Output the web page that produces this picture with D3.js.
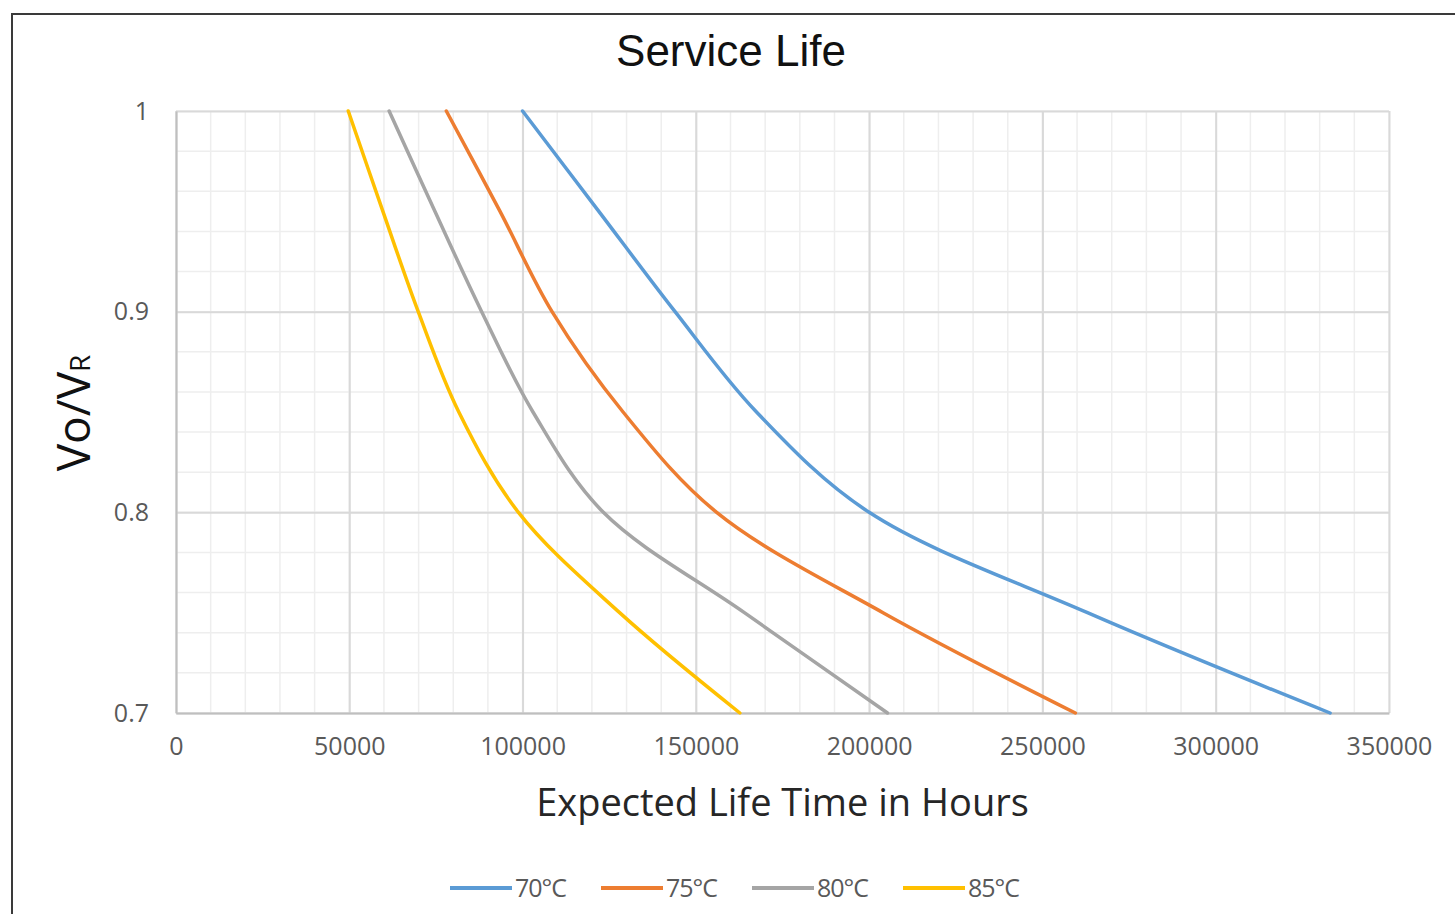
<!DOCTYPE html>
<html>
<head>
<meta charset="utf-8">
<script src="https://cdn.jsdelivr.net/npm/d3@7"></script>
<style>
  body { margin: 0; background: #fff; }
  svg { display: block; }
</style>
</head>
<body>
<script>
// ratio Vo/VR at which each curve was read
const ratios = [1, 0.95, 0.9, 0.85, 0.8, 0.75, 0.7];

// expected life in hours for each temperature
const hours70 = [100000, 122000, 144000, 167500, 200000, 263000, 333000];
const hours75 = [78000, 93500, 108500, 129000, 156000, 204000, 259500];
const hours80 = [61500, 74700, 88200, 103000, 123300, 164000, 205300];
const hours85 = [49700, 59700, 69900, 81600, 98800, 128000, 162700];

const seriesNames = ["70°C", "75°C", "80°C", "85°C"];
const seriesColors = ["#5B9BD5", "#ED7D31", "#A5A5A5", "#FFC000"];
const seriesHours = [hours70, hours75, hours80, hours85];

const xTicks = [0, 50000, 100000, 150000, 200000, 250000, 300000, 350000];
const yTicks = [0.7, 0.8, 0.9, 1];

const w = 1455;
const h = 914;
const plotL = 176, plotR = 1389, plotT = 111, plotB = 713;

const xScale = d3.scaleLinear().domain([0, 350000]).range([plotL, plotR]);
const yScale = d3.scaleLinear().domain([0.7, 1]).range([plotB, plotT]);

const svg = d3.select("body").append("svg")
    .attr("width", w)
    .attr("height", h);

// outer frame (only the top and left edges show in the picture)
svg.append("path")
    .attr("d", "M12," + h + " L12,14 L" + w + ",14")
    .attr("fill", "none")
    .attr("stroke", "#3a3a3a")
    .attr("stroke-width", 2);

svg.append("text")
    .attr("x", 731)
    .attr("y", 66)
    .attr("text-anchor", "middle")
    .style("font-family", "'Liberation Sans', Arial, sans-serif")
    .style("font-size", "44px")
    .attr("fill", "#111")
    .text("Service Life");

// minor grid
const grid = svg.append("g");
grid.selectAll(".vminor")
    .data(d3.range(0, 350001, 10000))
    .enter().append("line")
    .attr("x1", d => xScale(d)).attr("x2", d => xScale(d))
    .attr("y1", plotT).attr("y2", plotB)
    .attr("stroke", "#eeeeee").attr("stroke-width", 1.5);
grid.selectAll(".hminor")
    .data(d3.range(0, 16).map(i => 0.7 + i * 0.02))
    .enter().append("line")
    .attr("y1", d => yScale(d)).attr("y2", d => yScale(d))
    .attr("x1", plotL).attr("x2", plotR)
    .attr("stroke", "#eeeeee").attr("stroke-width", 1.5);

// major grid
svg.append("g")
    .attr("transform", "translate(0," + plotB + ")")
    .call(d3.axisBottom(xScale).tickValues(xTicks).tickSize(-(plotB - plotT)).tickFormat(""))
    .call(g => g.select(".domain").remove())
    .call(g => g.selectAll("line").attr("stroke", "#d9d9d9").attr("stroke-width", 2));
svg.append("g")
    .attr("transform", "translate(" + plotL + ",0)")
    .call(d3.axisLeft(yScale).tickValues(yTicks).tickSize(-(plotR - plotL)).tickFormat(""))
    .call(g => g.select(".domain").remove())
    .call(g => g.selectAll("line").attr("stroke", "#d9d9d9").attr("stroke-width", 2));

// axes with labels
const xAxis = svg.append("g")
    .attr("transform", "translate(0," + plotB + ")")
    .call(d3.axisBottom(xScale).tickValues(xTicks).tickSize(0).tickPadding(24).tickFormat(d3.format("d")));
const yAxis = svg.append("g")
    .attr("transform", "translate(" + plotL + ",0)")
    .call(d3.axisLeft(yScale).tickValues(yTicks).tickSize(0).tickPadding(27).tickFormat(d => String(d)));

[xAxis, yAxis].forEach(g => {
    g.select(".domain").attr("stroke", "#bfbfbf").attr("stroke-width", 2);
    g.selectAll("text")
        .style("font-family", "'Open Sans', sans-serif")
        .style("font-size", "25px")
        .attr("fill", "#595959");
});

// curves, smoothed like the spreadsheet's lines
const line = d3.line()
    .x(d => xScale(d[0]))
    .y(d => yScale(d[1]))
    .curve(d3.curveCatmullRom.alpha(0.5));

svg.append("g").selectAll("path")
    .data(seriesHours.map((hrs, i) => ({ i: i, pts: hrs.map((v, j) => [v, ratios[j]]) })))
    .enter().append("path")
    .attr("d", d => line(d.pts))
    .attr("fill", "none")
    .attr("stroke", d => seriesColors[d.i])
    .attr("stroke-width", 3.5)
    .attr("stroke-linecap", "round");

// axis titles
svg.append("text")
    .attr("x", (plotL + plotR) / 2)
    .attr("y", 816)
    .attr("text-anchor", "middle")
    .style("font-family", "'Open Sans', sans-serif")
    .style("font-size", "38px")
    .attr("fill", "#262626")
    .text("Expected Life Time in Hours");

const yTitle = svg.append("text")
    .attr("transform", "translate(90,413) rotate(-90)")
    .attr("text-anchor", "middle")
    .style("font-family", "'Open Sans', sans-serif")
    .style("font-size", "46px")
    .attr("fill", "#111");
yTitle.append("tspan").text("Vo/V");
yTitle.append("tspan").style("font-size", "28px").text("R");

// legend
const legend = svg.append("g").attr("transform", "translate(450,888)");
const item = legend.selectAll("g")
    .data(seriesNames)
    .enter().append("g")
    .attr("transform", (d, i) => "translate(" + (i * 151) + ",0)");
item.append("line")
    .attr("x1", 0).attr("x2", 62)
    .attr("stroke", (d, i) => seriesColors[i])
    .attr("stroke-width", 4);
item.append("text")
    .attr("x", 65)
    .attr("dy", "0.35em")
    .style("font-family", "'Open Sans', sans-serif")
    .style("font-size", "25px")
    .style("letter-spacing", "-1px")
    .attr("fill", "#595959")
    .text(d => d);
</script>
</body>
</html>
